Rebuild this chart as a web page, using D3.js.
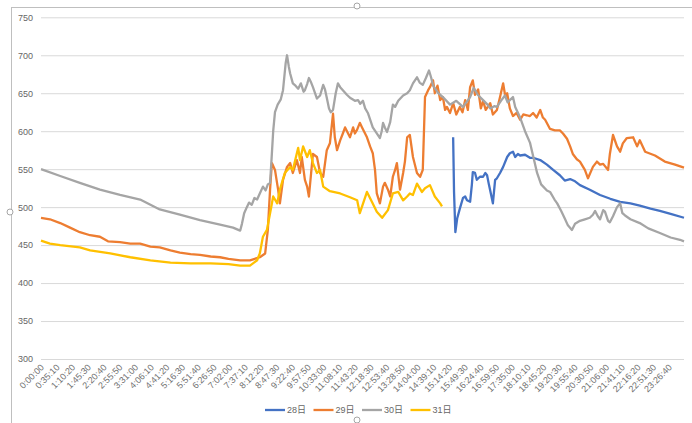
<!DOCTYPE html>
<html>
<head>
<meta charset="utf-8">
<script src="https://cdn.jsdelivr.net/npm/d3@7"></script>
<style>
  body { margin: 0; background: #fff; }
  svg { display: block; font-family: "Liberation Sans", "Noto Sans CJK JP", sans-serif; }
</style>
</head>
<body>
<div id="chart"></div>
<script>
// x tick labels (every 2110 s)
const timeLabels = ['0:00:00','0:35:10','1:10:20','1:45:30','2:20:40','2:55:50','3:31:00','4:06:10',
  '4:41:20','5:16:30','5:51:40','6:26:50','7:02:00','7:37:10','8:12:20','8:47:30','9:22:40','9:57:50',
  '10:33:00','11:08:10','11:43:20','12:18:30','12:53:40','13:28:50','14:04:00','14:39:10','15:14:20',
  '15:49:30','16:24:40','16:59:50','17:35:00','18:10:10','18:45:20','19:20:30','19:55:40','20:30:50',
  '21:06:00','21:41:10','22:16:20','22:51:30','23:26:40']
const yTicks = [300, 350, 400, 450, 500, 550, 600, 650, 700, 750]
const seriesNames = ['28日', '29日', '30日', '31日']
const seriesColors = ['#4472C4', '#ED7D31', '#A5A5A5', '#FFC000']

// [minute of day, value]
const s28 = [[923,592],[925,520],[928,467],[932,485],[938,498],[945,512],[950,514],[954,509],[961,507],
  [965,530],[967,546],[972,545],[976,536],[983,540],[990,540],[995,545],[999,542],[1003,530],[1006,522],
  [1012,505],[1017,536],[1021,538],[1028,545],[1035,553],[1044,566],[1050,571],[1057,573],[1062,566],
  [1068,570],[1073,568],[1084,569],[1095,565],[1102,565],[1118,562],[1133,556],[1147,549],[1162,542],
  [1173,535],[1185,537],[1196,534],[1207,529],[1229,523],[1252,516],[1275,511],[1297,507],[1320,505],
  [1341,502],[1365,498],[1386,495],[1410,491],[1440,486]]

const s29 = [[0,486],[20,484],[43,479],[65,473],[87,467],[110,463],[132,461],[150,455],[177,454],
  [200,452],[222,452],[245,448],[266,447],[290,443],[311,440],[335,438],[356,437],[380,435],[401,434],
  [420,432],[446,430],[468,430],[490,434],[502,439],[508,470],[513,523],[517,558],[524,549],[531,523],
  [535,505],[542,536],[551,553],[558,558],[564,545],[573,562],[580,545],[584,566],[591,536],[596,527],
  [600,514],[609,570],[618,566],[625,545],[632,540],[640,575],[647,584],[654,623],[658,592],[663,575],
  [670,588],[676,597],[681,605],[692,592],[699,605],[703,597],[708,602],[714,611],[719,605],[730,592],
  [737,580],[743,571],[748,549],[752,518],[759,505],[766,527],[770,532],[777,523],[782,514],[788,540],
  [793,549],[797,558],[804,523],[811,545],[815,560],[820,592],[826,595],[833,566],[842,545],[849,540],
  [855,549],[860,645],[867,654],[871,658],[878,667],[882,650],[888,660],[894,641],[900,645],[905,628],
  [909,632],[916,624],[923,637],[930,622],[938,632],[944,625],[950,641],[956,628],[961,658],[967,667],
  [972,648],[979,655],[985,630],[990,640],[996,628],[1006,637],[1012,622],[1021,628],[1028,645],
  [1035,663],[1040,645],[1044,650],[1050,630],[1057,620],[1065,624],[1073,615],[1080,622],[1088,621],
  [1095,620],[1102,624],[1110,618],[1118,628],[1124,618],[1129,615],[1140,603],[1151,601],[1162,601],
  [1169,597],[1178,590],[1185,580],[1191,570],[1200,563],[1207,560],[1218,549],[1225,538],[1236,553],
  [1245,560],[1252,556],[1259,557],[1270,549],[1274,570],[1281,595],[1290,580],[1297,573],[1303,584],
  [1312,591],[1326,592],[1335,580],[1341,588],[1353,573],[1375,568],[1397,560],[1420,556],[1440,552]]

const s30 = [[0,550],[43,541],[87,532],[132,523],[177,516],[222,510],[266,497],[311,490],[356,483],
  [401,477],[430,473],[446,469],[450,478],[455,492],[461,500],[466,506],[472,503],[478,512],[484,510],
  [490,518],[497,527],[503,522],[508,530],[513,532],[516,560],[520,600],[524,625],[530,635],[537,642],
  [542,654],[548,690],[551,700],[555,685],[558,676],[564,663],[570,660],[576,656],[582,663],[588,652],
  [591,654],[596,662],[600,670],[605,664],[609,658],[618,643],[625,647],[632,661],[636,655],[640,644],
  [645,630],[649,625],[654,628],[660,650],[665,663],[670,658],[676,654],[685,648],[692,644],[703,640],
  [710,641],[715,636],[721,640],[726,630],[732,624],[743,605],[752,597],[759,591],[763,600],[766,611],
  [770,605],[775,599],[782,612],[788,635],[793,632],[800,640],[811,647],[820,650],[826,654],[833,663],
  [842,671],[848,664],[855,661],[862,670],[869,680],[874,670],[878,660],[890,650],[900,645],[916,635],
  [930,640],[945,632],[955,640],[961,645],[969,657],[978,648],[990,641],[1000,635],[1006,630],[1015,633],
  [1021,632],[1030,640],[1039,647],[1045,638],[1057,645],[1062,632],[1073,618],[1084,600],[1095,585],
  [1105,560],[1111,545],[1120,530],[1133,522],[1140,520],[1150,510],[1156,505],[1165,495],[1173,485],
  [1180,476],[1189,470],[1196,478],[1207,482],[1218,484],[1229,486],[1236,490],[1241,495],[1247,488],
  [1252,484],[1259,496],[1263,494],[1270,482],[1274,480],[1281,488],[1290,500],[1297,505],[1302,492],
  [1308,489],[1320,484],[1341,479],[1360,472],[1386,466],[1410,460],[1431,457],[1440,455]]

const s31 = [[0,456],[20,452],[43,450],[87,447],[110,443],[155,439],[200,434],[245,430],[290,427],
  [335,426],[380,426],[420,425],[446,423],[468,423],[484,430],[490,439],[497,461],[506,470],[513,492],
  [520,514],[529,505],[535,523],[546,545],[558,553],[564,549],[573,571],[576,578],[580,562],[587,580],
  [596,566],[602,575],[609,558],[618,545],[625,549],[632,527],[647,521],[670,518],[692,513],[708,509],
  [714,492],[730,520],[741,507],[752,494],[764,486],[777,496],[788,518],[800,520],[811,509],[820,514],
  [826,518],[833,516],[842,531],[853,520],[860,525],[871,529],[882,514],[894,505],[898,501]]

const allSeries = [s28, s29, s30, s31]

const W = 692, H = 423
const plot = { left: 41, right: 684, top: 17.3, bottom: 359 }

const svg = d3.select('#chart').append('svg')
  .attr('width', W)
  .attr('height', H)

// chart frame
svg.append('rect')
  .attr('x', 11.5).attr('y', 7.5)
  .attr('width', 720).attr('height', 440)
  .attr('fill', 'none')
  .attr('stroke', '#BFBFBF')

const x = d3.scaleLinear().domain([0, 86400]).range([plot.left, plot.right])
const y = d3.scaleLinear().domain([300, 750]).range([plot.bottom, plot.top])

const toSec = s => {
  const p = s.split(':').map(Number)
  return p[0] * 3600 + p[1] * 60 + p[2]
}

// y gridlines + labels
const yAxis = d3.axisLeft(y).tickValues(yTicks).tickSize(-(plot.right - plot.left)).tickPadding(8)
const gy = svg.append('g')
  .attr('transform', `translate(${plot.left},0)`)
  .call(yAxis)
gy.select('.domain').remove()
gy.selectAll('line').attr('stroke', '#D9D9D9')
gy.selectAll('text').attr('fill', '#666').style('font-size', '9px')

// x labels
const xAxis = d3.axisBottom(x).tickValues(timeLabels.map(toSec))
  .tickFormat((d, i) => timeLabels[i]).tickSize(0)
const gx = svg.append('g')
  .attr('transform', `translate(0,${plot.bottom})`)
  .call(xAxis)
gx.select('.domain').remove()
gx.selectAll('text')
  .attr('fill', '#707070')
  .style('font-size', '9px')
  .style('text-anchor', 'end')
  .attr('dy', 0)
  .attr('y', 0)
  .attr('transform', 'translate(3,9) rotate(-45)')

// lines
const line = d3.line()
  .x(d => x(d[0] * 60))
  .y(d => y(d[1]))

svg.append('g').selectAll('path')
  .data(allSeries)
  .enter()
    .append('path')
    .attr('d', line)
    .attr('fill', 'none')
    .attr('stroke', (d, i) => seriesColors[i])
    .attr('stroke-width', 2.3)
    .attr('stroke-linejoin', 'round')

// legend
const legend = svg.append('g')
  .attr('transform', 'translate(265,410)')
const item = legend.selectAll('g')
  .data(seriesNames)
  .enter()
    .append('g')
    .attr('transform', (d, i) => `translate(${i * 48.5},0)`)
item.append('line')
  .attr('x1', 0).attr('x2', 20)
  .attr('stroke', (d, i) => seriesColors[i])
  .attr('stroke-width', 2.3)
item.append('text')
  .attr('x', 22)
  .attr('dy', '0.35em')
  .attr('fill', '#666')
  .style('font-size', '9px')
  .text(d => d)

// selection handles
const handles = [[357, 6], [357, 420], [10, 212]]
svg.append('g').selectAll('circle')
  .data(handles)
  .enter()
    .append('circle')
    .attr('cx', d => d[0]).attr('cy', d => d[1])
    .attr('r', 3)
    .attr('fill', '#fff')
    .attr('stroke', '#A6A6A6')
</script>
</body>
</html>
